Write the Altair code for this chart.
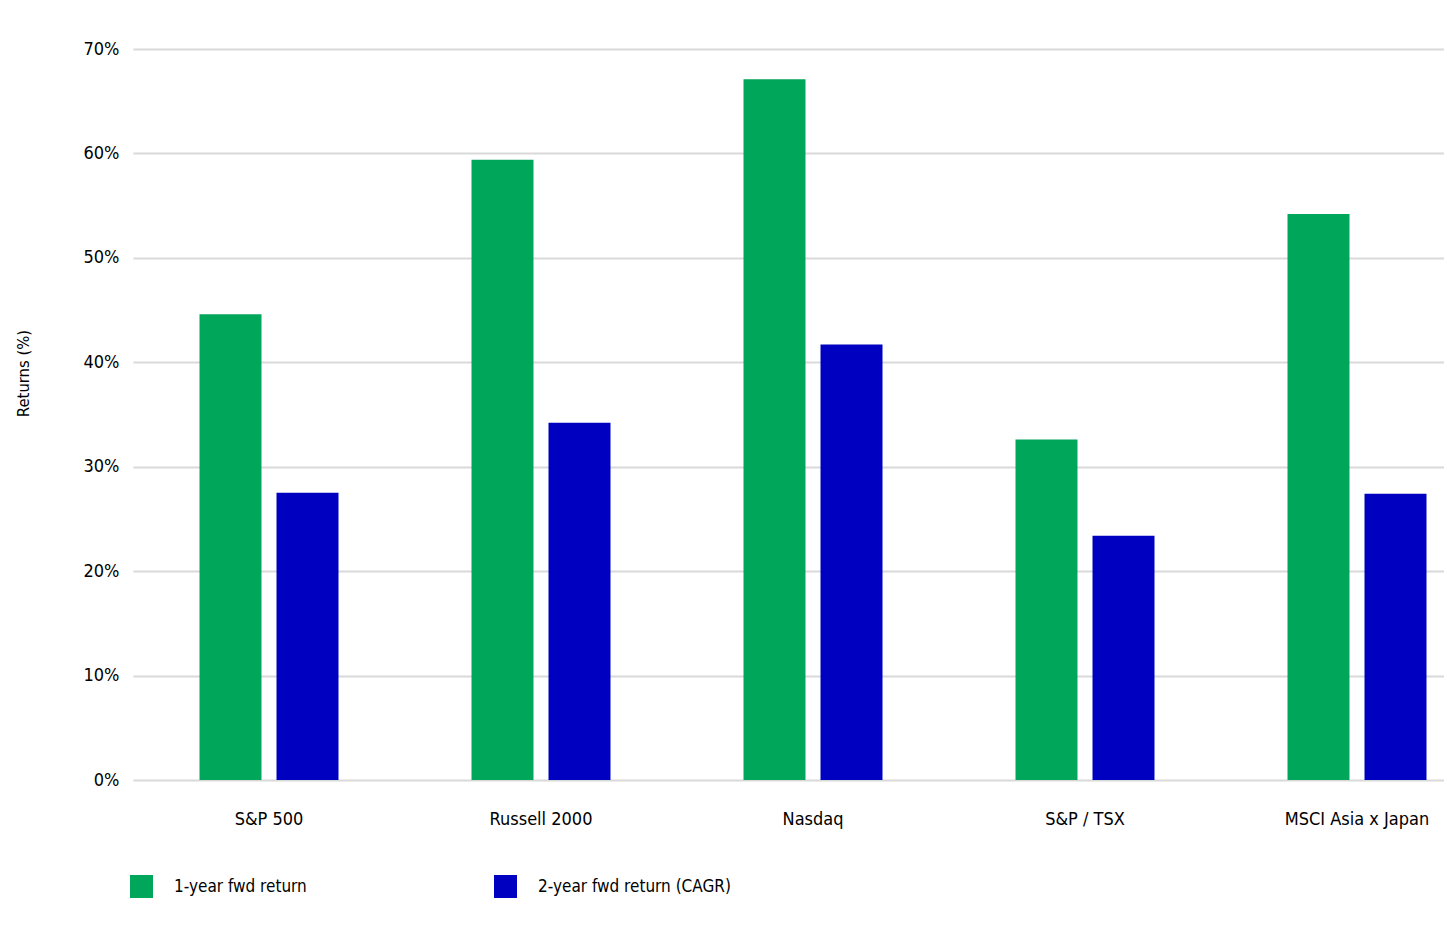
import altair as alt
import pandas as pd

categories = ["S&P 500", "Russell 2000", "Nasdaq", "S&P / TSX", "MSCI Asia x Japan"]
series = ["1-year fwd return", "2-year fwd return (CAGR)"]
one_year = [44.6, 59.4, 67.1, 32.6, 54.2]
two_year = [27.5, 34.2, 41.7, 23.4, 27.4]
y_ticks = [0, 10, 20, 30, 40, 50, 60, 70]
colors = ["#00A65A", "#0000C0"]

rows = []
for c, a, b in zip(categories, one_year, two_year):
    rows.append({"index": c, "series": series[0], "value": a})
    rows.append({"index": c, "series": series[1], "value": b})
df = pd.DataFrame(rows)

FONT = "DejaVu Sans Condensed, Liberation Sans Narrow, sans-serif"

chart = alt.Chart(df).mark_bar().encode(
    x=alt.X("index:N", sort=categories,
            scale=alt.Scale(range=[0, 1360], paddingInner=0, paddingOuter=0),
            axis=alt.Axis(title=None, labelAngle=0, domain=False, ticks=False,
                          labelPadding=30, labelFontSize=18, labelColor="#000000",
                          labelFont=FONT, grid=False)),
    xOffset=alt.XOffset("series:N", sort=series,
                        scale=alt.Scale(paddingInner=0.195, paddingOuter=0.8636)),
    y=alt.Y("value:Q", scale=alt.Scale(domain=[0, 70], nice=False),
            axis=alt.Axis(title="Returns (%)", values=y_ticks,
                          labelExpr="datum.value + '%'",
                          domain=False, ticks=False, labelPadding=14,
                          labelFontSize=18, labelFont=FONT, labelColor="#000000",
                          grid=True, gridColor="#D9D9D9", gridWidth=2,
                          titleFont=FONT, titleFontSize=16.5, titleFontWeight="normal",
                          titleColor="#000000", titleX=-110, titleY=324,
                          titleAngle=270, titleAlign="center", titleBaseline="middle")),
    color=alt.Color("series:N", sort=series,
                    scale=alt.Scale(domain=series, range=colors),
                    legend=alt.Legend(title=None, orient="none", legendX=-3, legendY=826,
                                      direction="horizontal", symbolType="square",
                                      symbolSize=529, symbolStrokeWidth=0,
                                      symbolOpacity=1, labelFontSize=17,
                                      labelFont=FONT, labelColor="#000000",
                                      labelOffset=21, columnPadding=187,
                                      labelLimit=400, padding=0)),
).properties(
    width=1311, height=731,
    autosize=alt.AutoSizeParams(type="none"),
    padding={"left": 125, "top": 41, "right": 0, "bottom": 130},
).configure_view(stroke=None)

chart.save("out.html", embed_options={"renderer": "svg", "actions": False})
